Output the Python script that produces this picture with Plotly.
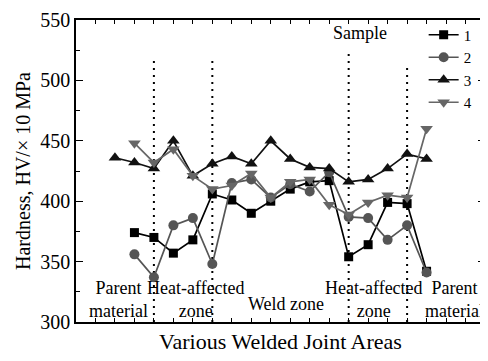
import plotly.graph_objects as go

# ---- data ----
positions = list(range(1, 18))
series_names = ["1", "2", "3", "4"]
s1 = [None, 374, 370, 357, 368, 406, 401, 390, 400, 410, 416, 417, 354, 364, 399, 398, 342]
s2 = [None, 356, 337, 380, 386, 348, 415, 418, 403, 414, 408, 424, 387, 386, 368, 380, 341]
s3 = [436, 432, 427, 450, 421, 431, 437, 431, 450, 435, 428, 427, 416, 418, 427, 439, 435]
s4 = [None, 448, 432, 443, 421, 410, 413, 423, 403, 416, 418, 397, 389, 399, 405, 403, 460]

divider_x = [3, 6, 13, 16]
divider_top = [516, 516, 522, 514]

zone_labels = ["Parent<br>material", "Heat-affected<br>zone", "Weld zone",
               "Heat-affected<br>zone", "Parent<br>material", "Sample"]
zone_x = [1.2, 5.18, 9.78, 14.28, 18.42, 13.56]
zone_y = [318.5, 318.5, 315, 318.5, 318.5, 539]

y_ticks = [300, 350, 400, 450, 500, 550]

FONT = "Liberation Serif, Times New Roman, serif"

fig = go.Figure()

styles = [
    dict(color="#000000", symbol="square", size=9),
    dict(color="#555555", symbol="circle", size=10),
    dict(color="#111111", symbol="triangle-up", size=11),
    dict(color="#666666", symbol="triangle-down", size=11),
]
for name, vals, st in zip(series_names, [s1, s2, s3, s4], styles):
    fig.add_trace(go.Scatter(
        x=positions, y=vals, name=name, mode="lines+markers",
        line=dict(color=st["color"], width=1.7),
        marker=dict(color=st["color"], symbol=st["symbol"], size=st["size"],
                    line=dict(width=0)),
    ))

for xv, top in zip(divider_x, divider_top):
    fig.add_shape(type="line", x0=xv, x1=xv, y0=300, y1=top, xref="x", yref="y",
                  line=dict(color="black", width=2, dash="2px,5px"), layer="below")

for txt, xv, yv in zip(zone_labels, zone_x, zone_y):
    fig.add_annotation(x=xv, y=yv, text=txt, showarrow=False, xref="x", yref="y",
                       font=dict(family=FONT, size=18, color="black"))

# page body adds an 8px offset, so the figure is sized to fit the 488x361 window
fig.update_layout(
    width=480, height=353,
    margin=dict(l=68, r=1, t=11, b=39),
    paper_bgcolor="white", plot_bgcolor="white",
    font=dict(family=FONT, color="black"),
    showlegend=True,
    legend=dict(x=0.85, y=1.005, xanchor="left", yanchor="top",
                bgcolor="rgba(0,0,0,0)", font=dict(family=FONT, size=15),
                tracegroupgap=0),
)
fig.update_xaxes(
    range=[-1, 20], showline=True, linecolor="black", linewidth=1.5, mirror="ticks",
    ticks="inside", ticklen=4, tickwidth=1, tickcolor="black", dtick=1, tick0=0,
    showticklabels=False, showgrid=False, zeroline=False,
    title=dict(text="Various Welded Joint Areas", font=dict(family=FONT, size=22), standoff=11),
)
fig.update_yaxes(
    range=[300, 550], showline=True, linecolor="black", linewidth=1.5, mirror="ticks",
    ticks="inside", ticklen=7, tickwidth=1.2, tickcolor="black",
    tickvals=y_ticks, tickfont=dict(family=FONT, size=20),
    minor=dict(ticks="inside", ticklen=4, dtick=25, tickcolor="black", tickwidth=1),
    showgrid=False, zeroline=False,
    title=dict(text="Hardness, HV/× 10 MPa", font=dict(family=FONT, size=20), standoff=4),
)

fig.write_html("out.html")
